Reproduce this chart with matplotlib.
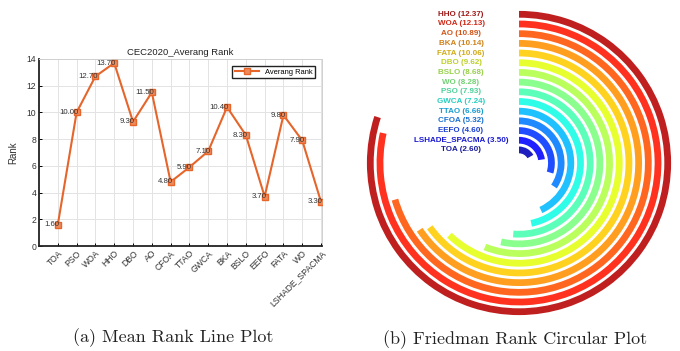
import numpy as np
import matplotlib
matplotlib.use("Agg")
import matplotlib.pyplot as plt

# ---- data -------------------------------------------------------------
algorithms = ["TOA", "PSO", "WOA", "HHO", "DBO", "AO", "CFOA", "TTAO",
              "GWCA", "BKA", "BSLO", "EEFO", "FATA", "WO", "LSHADE_SPACMA"]
mean_rank = [1.60, 10.00, 12.70, 13.70, 9.30, 11.50, 4.80, 5.90,
             7.10, 10.40, 8.30, 3.70, 9.80, 7.90, 3.30]

friedman_names = ["HHO", "WOA", "AO", "BKA", "FATA", "DBO", "BSLO", "WO",
                  "PSO", "GWCA", "TTAO", "CFOA", "EEFO", "LSHADE_SPACMA", "TOA"]
friedman_rank = [12.37, 12.13, 10.89, 10.14, 10.06, 9.62, 8.68, 8.28,
                 7.93, 7.24, 6.66, 5.32, 4.60, 3.50, 2.60]

# ---- figure -------------------------------------------------------------
fig = plt.figure(figsize=(6.8, 3.51), dpi=100)
W, H = 680, 351

def px_rect(left, top, right, bottom):
    return [left / W, 1 - bottom / H, (right - left) / W, (bottom - top) / H]

sans = "Liberation Sans"
line_col = "#E5652B"

# (a) mean rank line plot
ax = fig.add_axes(px_rect(39, 59, 322, 246))
x = np.arange(1, len(algorithms) + 1)
ax.plot(x, mean_rank, color=line_col, lw=1.5, marker="s", ms=4.2,
        mfc="#F08A5A", mec=line_col, mew=1.0, label="Averang Rank", zorder=3)
for xi, yi in zip(x, mean_rank):
    ax.annotate(f"{yi:.2f}", xy=(xi, yi), xytext=(2, 0), textcoords="offset pixels",
                ha="right", va="center", fontsize=5.6, color="#333333",
                family=sans, zorder=4)
ax.set_xlim(0, 15.05)
ax.set_ylim(0, 14)
ax.set_yticks(np.arange(0, 15, 2))
ax.set_xticks(x)
ax.set_xticklabels(algorithms, rotation=45, ha="right", rotation_mode="anchor",
                   fontsize=6.2, family=sans, color="#333333")
for lbl in ax.get_yticklabels():
    lbl.set_fontsize(6.2)
    lbl.set_family(sans)
    lbl.set_color("#333333")
ax.tick_params(direction="in", length=2.5, width=0.7, pad=2)
ax.grid(True, color="#e3e3e3", lw=0.7)
ax.set_axisbelow(True)
for s in ["left", "bottom"]:
    ax.spines[s].set_linewidth(1.3)
    ax.spines[s].set_color("#222222")
for s in ["top", "right"]:
    ax.spines[s].set_linewidth(0.7)
    ax.spines[s].set_color("#d0d0d0")
ax.set_title("CEC2020_Averang Rank", fontsize=6.8, family=sans, color="#222222", pad=3)
ax.set_ylabel("Rank", fontsize=7, family=sans, color="#333333", labelpad=6)
leg = ax.legend(loc="upper right", prop={"family": sans, "size": 5.4},
                fancybox=False, framealpha=1, edgecolor="#222222",
                borderpad=0.35, handlelength=3.2, borderaxespad=0.9)
leg.get_frame().set_linewidth(1.0)

# (b) Friedman rank circular plot
pax = fig.add_axes(px_rect(364, 8, 674, 318), projection="polar")
pax.set_theta_zero_location("N")
pax.set_theta_direction(-1)
order = np.argsort(friedman_rank)           # innermost ring = best rank
vals = np.array(friedman_rank)[order]
names = np.array(friedman_names)[order]
radii = 1.35 + np.arange(len(vals))
sweep = vals / vals.max() * 0.8 * 2 * np.pi
jet = plt.get_cmap("jet")
base = jet(np.linspace(0.05, 0.95, len(vals)))[:, :3]
colors = 0.88 * base + 0.12
text_colors = colors * 0.82
pax.barh(radii, sweep, left=0, height=0.7, color=colors, align="center")
for r, nm, v, c in zip(radii, names, vals, text_colors):
    pax.annotate(f"{nm} ({v:.2f})", xy=(0, r), xytext=(-58, 0),
                 textcoords="offset pixels", ha="center", va="center",
                 fontsize=5.8, fontweight="bold", color=c, family=sans,
                 annotation_clip=False)
pax.set_ylim(0, 16)
pax.axis("off")

# captions
cap = dict(fontsize=13, family="cmr10", ha="center", va="center", color="#222222")
fig.text(173 / W, 1 - 338 / H, "(a) Mean Rank Line Plot", **cap)
fig.text(515 / W, 1 - 340 / H, "(b) Friedman Rank Circular Plot", **cap)

fig.savefig("out.png", dpi=100)
